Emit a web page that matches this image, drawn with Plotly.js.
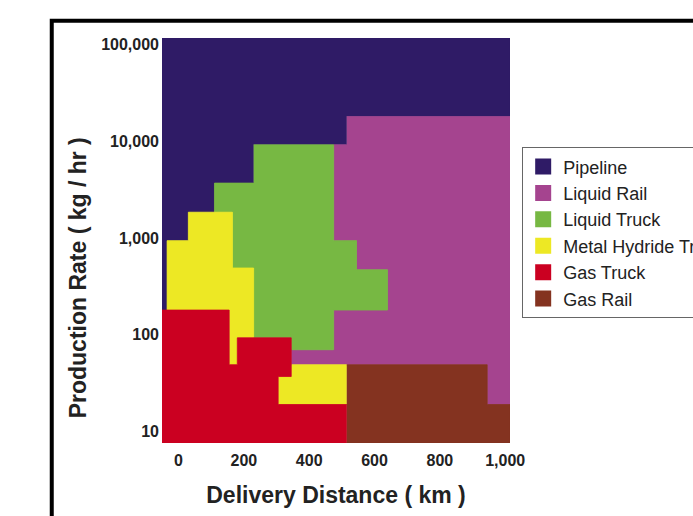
<!DOCTYPE html>
<html>
<head>
<meta charset="utf-8">
<script src="https://cdn.plot.ly/plotly-3.0.1.min.js"></script>
<style>html,body{margin:0;padding:0;background:#fff;}#chart{width:693px;height:516px;}</style>
</head>
<body>
<div id="chart"></div>
<script>
// Region outlines (delivery distance in km, production rate in kg/hr)
const regionNames = ["Pipeline", "Liquid Rail", "Liquid Truck", "Metal Hydride Truck", "Gas Truck", "Gas Rail"];

const pipelineX = [-50.6, 1014.8, 1014.8, 515, 515, 230, 230, 110, 110, 30, 30, -35, -35, -50.6];
const pipelineY = [117000, 117000, 18000, 18000, 9200, 9200, 3700, 3700, 1850, 1850, 940, 940, 180, 180];

const liquidRailX = [515, 1014.8, 1014.8, 945, 945, 345, 345, 475, 475, 640, 640, 545, 545, 475, 475, 515];
const liquidRailY = [18000, 18000, 19, 19, 49, 49, 70, 70, 180, 180, 470, 470, 940, 940, 9200, 9200];

const liquidTruckX = [230, 475, 475, 545, 545, 640, 640, 475, 475, 345, 345, 230, 230, 165, 165, 110, 110, 230];
const liquidTruckY = [9200, 9200, 940, 940, 470, 470, 180, 180, 70, 70, 93, 93, 490, 490, 1850, 1850, 3700, 3700];

const metalHydrideX = [30, 165, 165, 230, 230, 180, 180, 155, 155, -35, -35, 30, 30, null, 345, 515, 515, 305, 305, 345, 345];
const metalHydrideY = [1850, 1850, 490, 490, 93, 93, 49, 49, 180, 180, 940, 940, 1850, null, 49, 49, 19, 19, 37, 37, 49];

const gasTruckX = [-50.6, 155, 155, 180, 180, 345, 345, 305, 305, 515, 515, -50.6];
const gasTruckY = [180, 180, 49, 49, 93, 93, 37, 37, 19, 19, 7.6, 7.6];

const gasRailX = [515, 945, 945, 1014.8, 1014.8, 515];
const gasRailY = [49, 49, 19, 19, 7.6, 7.6];

const xTicks = [0, 200, 400, 600, 800, 1000];
const yTicks = [10, 100, 1000, 10000, 100000];

const colors = ["#2f1b66", "#a5448f", "#77b843", "#ede824", "#cb0021", "#843320"];

const regionX = [pipelineX, liquidRailX, liquidTruckX, metalHydrideX, gasTruckX, gasRailX];
const regionY = [pipelineY, liquidRailY, liquidTruckY, metalHydrideY, gasTruckY, gasRailY];

const traces = [];
regionNames.forEach((name, i) => {
  traces.push({
    type: "scatter", mode: "lines", name: name,
    x: regionX[i], y: regionY[i],
    fill: "toself", fillcolor: colors[i],
    line: {color: colors[i], width: 0.8},
    connectgaps: false,
    legendgroup: name, showlegend: false, hoverinfo: "name"
  });
});
regionNames.forEach((name, i) => {
  traces.push({
    type: "scatter", mode: "markers", name: name,
    x: [null], y: [null],
    marker: {symbol: "square", size: 16, color: colors[i]},
    legendgroup: name, showlegend: true
  });
});

const F = "Liberation Sans, Arial, sans-serif";

const layout = {
  width: 693, height: 516,
  margin: {l: 162, r: 183, t: 38, b: 73, autoexpand: false},
  paper_bgcolor: "#ffffff", plot_bgcolor: "#ffffff",
  showlegend: true,
  xaxis: {
    range: [-50.6, 1014.8], tickvals: xTicks, tickformat: ",",
    showgrid: false, zeroline: false, showline: false, ticks: "",
    ticklabelstandoff: 6,
    tickfont: {family: F, size: 16, weight: "bold", color: "#222"},
    title: {text: "Delivery Distance ( km )", standoff: 18,
            font: {family: F, size: 23, weight: "bold", color: "#222"}}
  },
  yaxis: {
    type: "log", range: [Math.log10(7.6), Math.log10(117000)],
    tickvals: yTicks, tickformat: ",",
    showgrid: false, zeroline: false, showline: false, ticks: "",
    ticklabelstandoff: 2,
    tickfont: {family: F, size: 16, weight: "bold", color: "#222"}
  },
  legend: {
    x: 1.035, y: 0.73, xanchor: "left", yanchor: "top",
    bgcolor: "#ffffff", bordercolor: "#666", borderwidth: 1,
    font: {family: F, size: 18, color: "#222"},
    itemwidth: 30, tracegroupgap: 0
  },
  annotations: [{
    text: "Production Rate ( kg / hr )", textangle: -90,
    xref: "paper", yref: "paper", x: -0.2414, y: 0.409,
    xanchor: "center", yanchor: "middle", showarrow: false,
    font: {family: F, size: 23, weight: "bold", color: "#222"}
  }],
  shapes: [{
    type: "rect", xref: "paper", yref: "paper",
    x0: -0.3168, x1: 2.5, y0: -1.5, y1: 1.0428,
    line: {color: "#000", width: 4}, fillcolor: "rgba(0,0,0,0)", layer: "above"
  }]
};

Plotly.newPlot("chart", traces, layout, {displayModeBar: false, staticPlot: true});
</script>
</body>
</html>
